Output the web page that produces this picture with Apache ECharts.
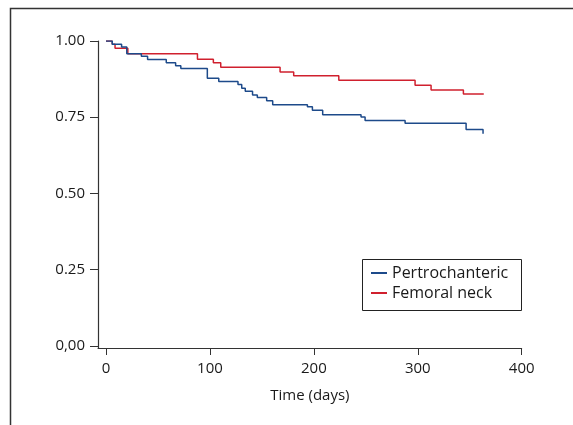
<!DOCTYPE html>
<html>
<head>
<meta charset="utf-8">
<script src="https://cdn.jsdelivr.net/npm/echarts@6/dist/echarts.min.js"></script>
<style>
html,body{margin:0;padding:0;background:#fff;}
#c{width:573px;height:425px;}
</style>
</head>
<body>
<div id="c"></div>
<script>
// Kaplan-Meier style step data
const pertroDays = [0,6,15,20,34,40,58,67,72,97.5,108.5,127,130.6,134,141,145.6,154.6,160.4,193.8,198.6,208.5,245.4,249.3,287.8,346.5,362.8];
const pertroSurv = [1,0.989,0.980,0.958,0.950,0.939,0.929,0.919,0.910,0.878,0.867,0.857,0.845,0.835,0.823,0.815,0.804,0.791,0.784,0.773,0.758,0.751,0.739,0.730,0.710,0.696];
const femoralDays = [0,6,8.7,21,88,103.3,110.4,167.5,180.6,224,297.4,312.8,343.9,363.5];
const femoralSurv = [1,0.989,0.976,0.958,0.940,0.929,0.914,0.898,0.886,0.871,0.855,0.839,0.826,0.826];
const xTicks = [0,100,200,300,400];
const yTicks = [0,0.25,0.5,0.75,1];
const seriesNames = ['Pertrochanteric','Femoral neck'];
const xTitle = 'Time (days)';

const pair = (d, s) => d.map((v, i) => [v, s[i]]);
const FONT = 'Open Sans';
const AX = '#333';
const TXT = '#1a1a1a';

const chart = echarts.init(document.getElementById('c'), null, {renderer: 'canvas'});
chart.setOption({
  animation: false,
  backgroundColor: '#fff',
  textStyle: {fontFamily: FONT},
  grid: {left: 98, right: 51.3, top: 41, bottom: 77, containLabel: false},
  xAxis: {
    type: 'value', min: -7.7, max: 400,
    name: xTitle, nameLocation: 'middle', nameGap: 40,
    nameTextStyle: {fontFamily: FONT, fontSize: 15, color: TXT},
    axisLine: {show: true, onZero: false, lineStyle: {color: AX, width: 1}},
    axisTick: {show: true, customValues: xTicks, length: 7, lineStyle: {color: AX}},
    axisLabel: {customValues: xTicks, margin: 13, fontFamily: FONT, fontSize: 15, color: TXT},
    splitLine: {show: false}
  },
  yAxis: {
    type: 'value', min: -0.007, max: 1,
    axisLine: {show: true, onZero: false, lineStyle: {color: AX, width: 1.2}},
    axisTick: {show: true, customValues: yTicks, length: 8, lineStyle: {color: AX}},
    axisLabel: {customValues: yTicks, margin: 13, fontFamily: FONT, fontSize: 15, color: TXT,
      formatter: v => v === 0 ? '0,00' : v.toFixed(2)},
    splitLine: {show: false}
  },
  legend: {
    show: true, orient: 'vertical', left: 371, top: 265, padding: 0, itemGap: 4,
    itemWidth: 16, itemHeight: 2, icon: 'rect',
    textStyle: {fontFamily: FONT, fontSize: 16, color: TXT},
    data: seriesNames
  },
  series: [
    {name: seriesNames[1], type: 'line', step: 'end', symbol: 'none',
     lineStyle: {color: '#d0202e', width: 1.5}, itemStyle: {color: '#d0202e'},
     data: pair(femoralDays, femoralSurv), z: 2},
    {name: seriesNames[0], type: 'line', step: 'end', symbol: 'none',
     lineStyle: {color: '#1d4a8a', width: 1.5}, itemStyle: {color: '#1d4a8a'},
     data: pair(pertroDays, pertroSurv), z: 3}
  ],
  graphic: [
    {type: 'polyline', shape: {points: [[10.5, 440], [10.5, 8.5], [600, 8.5]]},
     style: {stroke: '#333', lineWidth: 1.5, fill: null}, silent: true},
    {type: 'rect', shape: {x: 362.5, y: 259.5, width: 159, height: 51},
     style: {stroke: '#222', lineWidth: 1, fill: null}, silent: true, z: 0}
  ]
});
</script>
</body>
</html>
